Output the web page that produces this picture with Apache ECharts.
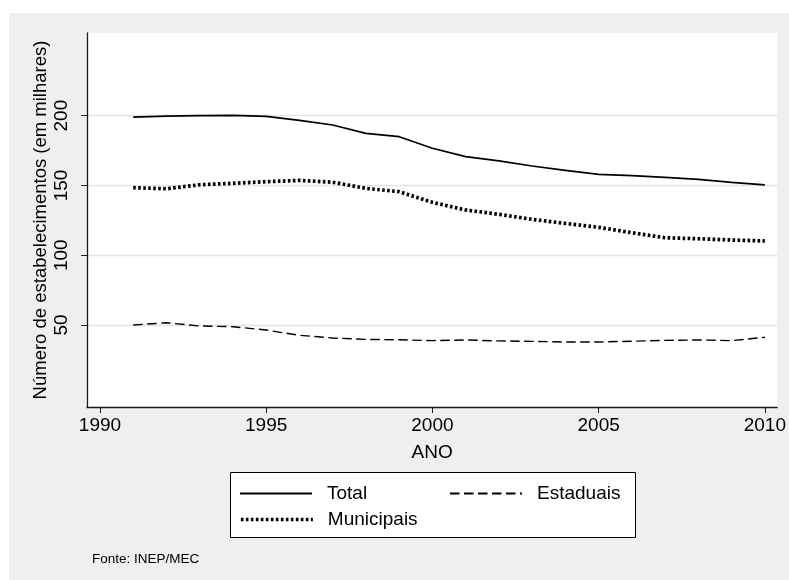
<!DOCTYPE html>
<html>
<head>
<meta charset="utf-8">
<script src="https://cdn.jsdelivr.net/npm/echarts@6/dist/echarts.min.js"></script>
<style>
  html, body { margin: 0; padding: 0; background: #ffffff; }
  #chart { width: 789px; height: 580px; }
</style>
</head>
<body>
<div id="chart"></div>
<script>
// Escolas de educação básica por dependência administrativa (milhares)
const anos = [1991, 1992, 1993, 1994, 1995, 1996, 1997, 1998, 1999, 2000,
              2001, 2002, 2003, 2004, 2005, 2006, 2007, 2008, 2009, 2010];
const total = [199.0, 199.7, 200.0, 200.2, 199.5, 196.6, 193.3, 187.3, 184.9, 176.6,
               170.6, 167.6, 163.9, 160.8, 157.9, 157.0, 155.8, 154.4, 152.2, 150.4];
const estaduais = [50.0, 51.6, 49.3, 48.8, 46.4, 42.6, 40.7, 39.7, 39.4, 38.8,
                   39.3, 38.6, 38.3, 37.8, 37.8, 38.4, 39.0, 39.3, 38.8, 41.2];
const municipais = [148.4, 147.6, 150.5, 151.5, 152.7, 153.6, 152.3, 147.9, 145.5, 137.9,
                    132.4, 129.3, 125.7, 122.8, 120.0, 116.1, 112.5, 111.8, 110.9, 110.2];

const xTicks = [1990, 1995, 2000, 2005, 2010];
const yTicks = [50, 100, 150, 200];

const FONT = '"Liberation Sans", Arial, Helvetica, sans-serif';
const INK = '#1a1a1a';

const pairs = (vals) => anos.map((a, i) => [a, vals[i]]);

const legendBase = {
  padding: 0,
  itemWidth: 72, itemHeight: 14, selectedMode: false,
  itemStyle: { opacity: 0 },
  textStyle: { fontSize: 19, color: '#000', padding: [0, 0, 0, 10], fontFamily: FONT }
};

const chart = echarts.init(document.getElementById('chart'), null, { renderer: 'canvas' });

chart.setOption({
  animation: false,
  backgroundColor: '#ffffff',
  textStyle: { fontFamily: FONT },
  graphic: [
    {
      type: 'rect', z: -10, silent: true,
      shape: { x: 9, y: 13, width: 780, height: 567 },
      style: { fill: '#efefef' }
    },
    {
      type: 'rect', z: 1, silent: true,
      shape: { x: 230.5, y: 472.5, width: 405, height: 65 },
      style: { fill: '#ffffff', stroke: '#000000', lineWidth: 1 }
    },
    {
      type: 'text', z: 5, left: 92, top: 552,
      style: { text: 'Fonte: INEP/MEC', font: '13.5px ' + FONT, fill: '#000000' }
    }
  ],
  grid: {
    left: 87, top: 33, right: 11, bottom: 173,
    show: true, backgroundColor: '#ffffff', borderWidth: 0,
    containLabel: false
  },
  xAxis: {
    type: 'value',
    min: 1989.61, max: 2010.37,
    name: 'ANO',
    nameLocation: 'middle',
    nameGap: 36,
    nameMoveOverlap: false,
    nameTextStyle: { fontSize: 19, color: '#000', fontFamily: FONT },
    axisLine: { show: true, onZero: false, lineStyle: { color: INK, width: 1.3 } },
    axisTick: { show: true, length: 6, customValues: xTicks, lineStyle: { color: INK, width: 1 } },
    axisLabel: {
      customValues: xTicks, fontSize: 19, color: '#000', margin: 9, fontFamily: FONT,
      formatter: (v) => String(v)
    },
    splitLine: { show: false }
  },
  yAxis: {
    type: 'value',
    min: -8.74, max: 259.2,
    name: 'Número de estabelecimentos (em milhares)',
    nameLocation: 'middle',
    nameRotate: 90,
    nameGap: 37,
    nameMoveOverlap: false,
    nameTextStyle: { fontSize: 18.5, color: '#000', fontFamily: FONT },
    axisLine: { show: true, onZero: false, lineStyle: { color: INK, width: 1.3 } },
    axisTick: { show: true, length: 6, customValues: yTicks, lineStyle: { color: INK, width: 1 } },
    axisLabel: {
      customValues: yTicks, rotate: 90, fontSize: 19, color: '#000', margin: 16, fontFamily: FONT,
      formatter: (v) => String(v)
    },
    splitLine: { show: true, lineStyle: { color: '#e4e4e4', width: 1.3 } }
  },
  legend: [
    Object.assign({}, legendBase, { data: ['Total'], left: 239, top: 484 }),
    Object.assign({}, legendBase, { data: ['Estaduais'], left: 449, top: 484 }),
    Object.assign({}, legendBase, {
      data: ['Municipais'], left: 239, top: 510,
      lineStyle: { width: 3.7, type: [2.6, 2.4], cap: 'butt' }
    })
  ],
  series: [
    {
      name: 'Total', type: 'line', data: pairs(total),
      symbol: 'none', showSymbol: false, z: 3,
      lineStyle: { color: '#000', width: 1.7, type: 'solid' },
      itemStyle: { color: '#000' }
    },
    {
      name: 'Estaduais', type: 'line', data: pairs(estaduais),
      symbol: 'none', showSymbol: false, z: 3,
      lineStyle: { color: '#000', width: 1.4, type: [9.5, 4.5] },
      itemStyle: { color: '#000' }
    },
    {
      name: 'Municipais', type: 'line', data: pairs(municipais),
      symbol: 'none', showSymbol: false, z: 3,
      lineStyle: { color: '#000', width: 3.7, type: [2.6, 2.4], cap: 'butt' },
      itemStyle: { color: '#000' }
    }
  ]
});
</script>
</body>
</html>
